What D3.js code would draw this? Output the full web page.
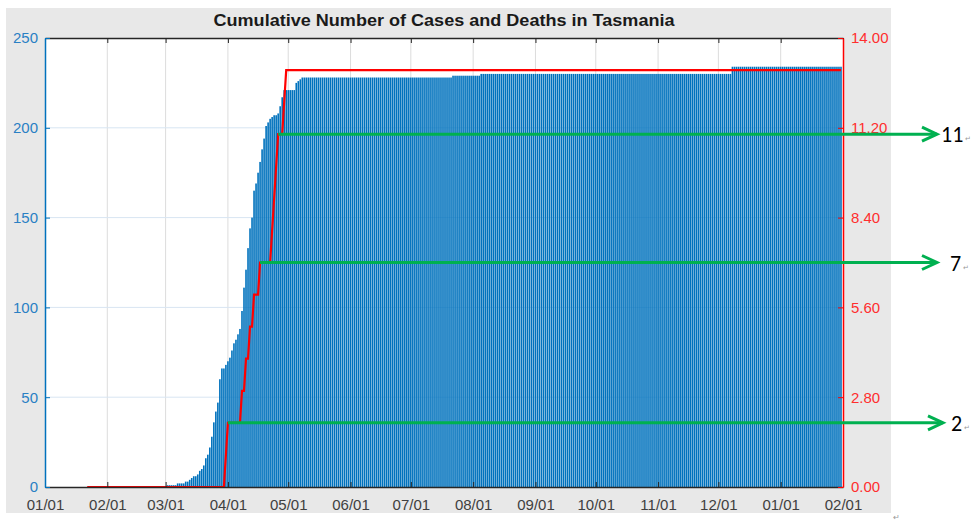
<!DOCTYPE html>
<meta charset="utf-8">
<style>
body{
    margin:0;
    background:#fff;
}
svg{
    display:block;
    font-family:"Liberation Sans", Arial, Helvetica, sans-serif;
}
.xaxis text{ fill:#404040; font-size:15px; }
.yleft text{ fill:#2a80c4; font-size:15px; }
.yright text{ fill:#ff2e2e; font-size:15px; }
.xaxis path, .xtop path{ stroke:#262626; }
.xaxis line, .xtop line{ stroke:#262626; }
.yleft path, .yleft line{ stroke:#0072BD; }
.yright path, .yright line{ stroke:#ff0000; }
</style>
<body>
<script src="https://d3js.org/d3.v7.min.js"></script>
<script>
// cumulative cases: date the total changed, new total
var caseSteps = [
    ["2020-01-22",0],["2020-03-02",1],["2020-03-07",2],["2020-03-11",3],["2020-03-13",4],
    ["2020-03-14",5],["2020-03-15",6],["2020-03-17",7],["2020-03-18",9],["2020-03-19",10],
    ["2020-03-20",12],["2020-03-21",16],["2020-03-22",18],["2020-03-23",22],["2020-03-24",28],
    ["2020-03-25",36],["2020-03-26",42],["2020-03-27",47],["2020-03-28",60],["2020-03-29",66],
    ["2020-03-31",68],["2020-04-01",70],["2020-04-02",72],["2020-04-03",76],["2020-04-04",80],
    ["2020-04-05",82],["2020-04-06",85],["2020-04-07",88],["2020-04-08",98],["2020-04-09",111],
    ["2020-04-10",121],["2020-04-11",133],["2020-04-12",144],["2020-04-13",150],["2020-04-14",165],
    ["2020-04-15",169],["2020-04-16",175],["2020-04-17",181],["2020-04-18",188],["2020-04-19",194],
    ["2020-04-20",201],["2020-04-21",203],["2020-04-22",205],["2020-04-23",206],["2020-04-24",207],
    ["2020-04-26",208],["2020-04-27",212],["2020-04-28",217],["2020-04-29",221],["2020-05-05",225],
    ["2020-05-06",226],["2020-05-07",227],["2020-05-08",228],["2020-07-22",229],["2020-08-05",230],
    ["2020-12-08",234]
];
// cumulative deaths
var deathSteps = [
    ["2020-01-22",0],["2020-03-31",1],["2020-04-01",2],["2020-04-08",3],["2020-04-10",4],
    ["2020-04-12",5],["2020-04-14",6],["2020-04-17",7],["2020-04-23",8],["2020-04-24",9],
    ["2020-04-25",10],["2020-04-26",11],["2020-04-29",12],["2020-04-30",13]
];
var firstDay = "2020-01-22", lastDay = "2021-01-31";
var axisStart = "2020-01-01", axisEnd = "2021-02-01";
var leftTicks = [0,50,100,150,200,250];
var rightTicks = [0,2.8,5.6,8.4,11.2,14];
var marked = [11,7,2];
var title = "Cumulative Number of Cases and Deaths in Tasmania";

var W=971, H=523;
var m = {l:45, r:843, t:38, b:487};
var parse = d3.utcParse("%Y-%m-%d");

function expand(steps){
    var out=[], i=0, cur=0;
    d3.utcDay.range(parse(firstDay), d3.utcDay.offset(parse(lastDay),1)).forEach(function(d){
        while(i<steps.length && parse(steps[i][0]) <= d){ cur = steps[i][1]; i++; }
        out.push({date:d, value:cur});
    });
    return out;
}
var cases = expand(caseSteps);
var deaths = expand(deathSteps);

var x = d3.scaleUtc().domain([parse(axisStart), parse(axisEnd)]).range([m.l, m.r]);
var yL = d3.scaleLinear().domain([0,250]).range([m.b, m.t]);
var yR = d3.scaleLinear().domain([0,14]).range([m.b, m.t]);
var dayW = x(parse("2020-01-02")) - x(parse("2020-01-01"));

var svg = d3.select("body").append("svg").attr("width",W).attr("height",H);

// figure background
svg.append("rect").attr("x",6).attr("y",8).attr("width",885).attr("height",505).attr("fill","#e8e8e8");
svg.append("rect").attr("x",m.l).attr("y",m.t).attr("width",m.r-m.l).attr("height",m.b-m.t).attr("fill","#fff");

// grid
var months = d3.utcMonth.range(parse(axisStart), d3.utcDay.offset(parse(axisEnd),1));
svg.append("g").selectAll("line").data(months.slice(1,-1)).enter().append("line")
    .attr("x1",function(d){return x(d);}).attr("x2",function(d){return x(d);})
    .attr("y1",m.t).attr("y2",m.b).attr("stroke","#dcdcdc").attr("stroke-width",1);
svg.append("g").selectAll("line").data(leftTicks.slice(1,-1)).enter().append("line")
    .attr("x1",m.l).attr("x2",m.r)
    .attr("y1",function(d){return yL(d);}).attr("y2",function(d){return yL(d);})
    .attr("stroke","#d8e5f2").attr("stroke-width",1);

// bars
svg.append("g").selectAll("rect").data(cases.filter(function(d){return d.value>0;})).enter().append("rect")
    .attr("x",function(d){return x(d.date)-dayW*0.4;})
    .attr("width",dayW*0.8)
    .attr("y",function(d){return yL(d.value);})
    .attr("height",function(d){return m.b-yL(d.value);})
    .attr("fill","#0072BD");

// deaths
svg.append("path").datum(deaths)
    .attr("d", d3.line().x(function(d){return x(d.date);}).y(function(d){return yR(d.value);}))
    .attr("fill","none").attr("stroke","#ff0000").attr("stroke-width",2.2);

// axes
svg.append("g").attr("class","xaxis").attr("transform","translate(0,"+m.b+")")
    .call(d3.axisBottom(x).tickValues(months).tickFormat(d3.utcFormat("%m/%d")).tickSizeInner(-5).tickSizeOuter(0).tickPadding(12));
svg.append("g").attr("class","xtop").attr("transform","translate(0,"+m.t+")")
    .call(d3.axisTop(x).tickValues(months).tickFormat("").tickSizeInner(-5).tickSizeOuter(0));
svg.append("g").attr("class","yleft").attr("transform","translate("+m.l+",0)")
    .call(d3.axisLeft(yL).tickValues(leftTicks).tickSizeInner(-5).tickSizeOuter(0).tickPadding(7));
svg.append("g").attr("class","yright").attr("transform","translate("+m.r+",0)")
    .call(d3.axisRight(yR).tickValues(rightTicks).tickFormat(d3.format(".2f")).tickSizeInner(-5).tickSizeOuter(0).tickPadding(8));
svg.selectAll(".xaxis path,.xtop path,.yleft path,.yright path").attr("stroke-width",1.5);

// title
svg.append("text").attr("x",(m.l+m.r)/2).attr("y",26).attr("text-anchor","middle")
    .attr("font-size","17px").attr("font-weight","bold").attr("fill","#1a1a1a")
    .attr("textLength",461).attr("lengthAdjust","spacingAndGlyphs").text(title);

// annotations for deaths levels
var tipX = {11:937, 7:937, 2:943};
var labX = {11:941, 7:950, 2:951};
var ann = svg.append("g");
marked.forEach(function(v){
    var first = deaths.find(function(d){return d.value>=v;});
    var yy = yR(v), x0 = x(first.date), tx = tipX[v];
    ann.append("line").attr("x1",x0).attr("x2",tx).attr("y1",yy).attr("y2",yy)
        .attr("stroke","#00b050").attr("stroke-width",3);
    ann.append("path").attr("d","M"+(tx-15)+","+(yy-7)+"L"+tx+","+yy+"L"+(tx-15)+","+(yy+7))
        .attr("fill","none").attr("stroke","#00b050").attr("stroke-width",3);
    var t = ann.append("text").attr("x",labX[v]).attr("y",yy+8).attr("font-size","22px")
        .attr("font-family","Carlito, 'Liberation Sans', sans-serif").attr("fill","#000").text(v);
    var w = t.node().getComputedTextLength();
    ann.append("text").attr("x",labX[v]+w+1.5).attr("y",yy+7).attr("font-size","7px")
        .attr("fill","#999").text("\u21b5");
});
svg.append("text").attr("x",893).attr("y",520).attr("font-size","8px").attr("fill","#999").text("\u21b5");
</script>
